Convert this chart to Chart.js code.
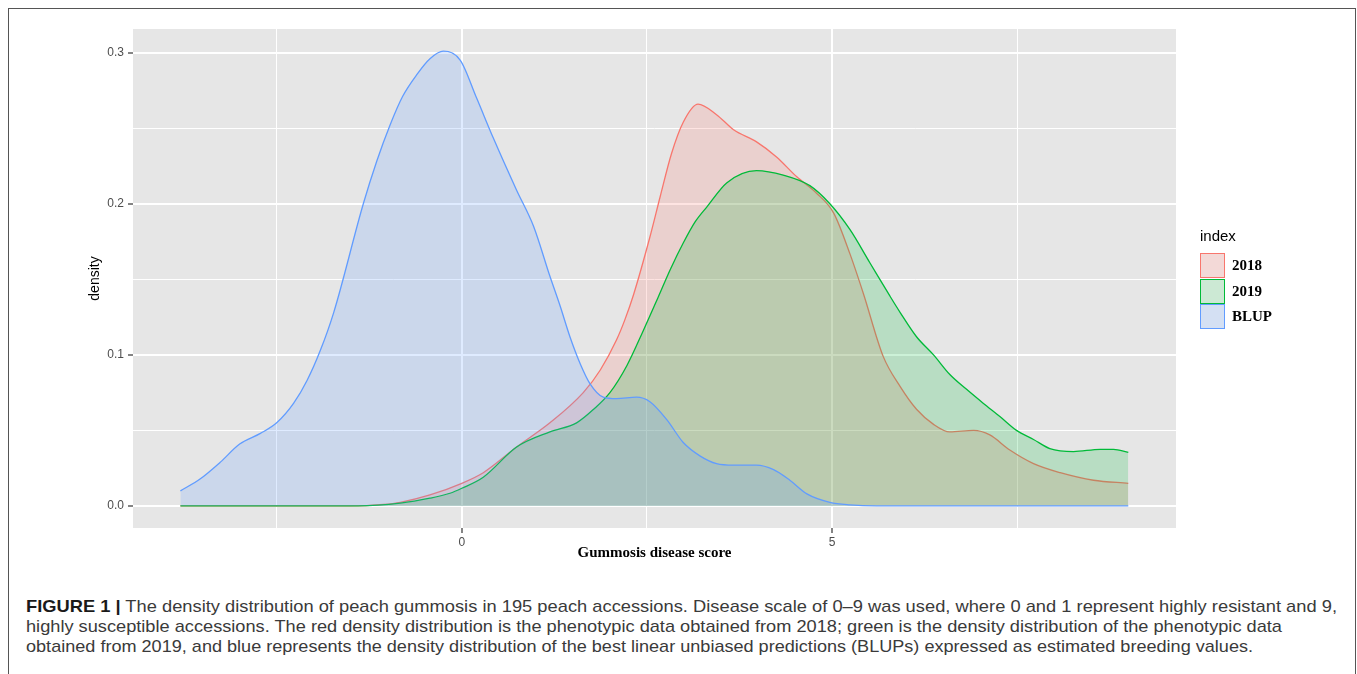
<!DOCTYPE html>
<html>
<head>
<meta charset="utf-8">
<script src="https://cdn.jsdelivr.net/npm/chart.js@4.4.1/dist/chart.umd.min.js"></script>
<style>
  html, body { margin: 0; padding: 0; background: #fff; }
  body { width: 1357px; height: 674px; position: relative; overflow: hidden; font-family: "Liberation Sans", Arial, sans-serif; }
  #frame { position: absolute; left: 8px; top: 8px; width: 1348px; height: 720px; border: 1.5px solid #555; box-sizing: border-box; }
  #chartBox { position: absolute; left: 0; top: 0; width: 1357px; height: 580px; }
  #legend { position: absolute; left: 1200px; top: 227px; }
  #legend .title { position: absolute; left: 0; top: 0; font: 15px "Liberation Sans", Arial, sans-serif; color: #000; white-space: nowrap; }
  #legend .key { position: absolute; left: 0; width: 25px; height: 25px; box-sizing: border-box; border: 1.5px solid; }
  #legend .lab { position: absolute; left: 32px; font: bold 15px "Liberation Serif", "Times New Roman", serif; color: #000; line-height: 25px; white-space: nowrap; }
  .cap { position: absolute; left: 26px; white-space: nowrap; font-size: 17px; line-height: 20px; color: #3a3a3a; transform-origin: 0 0; }
  .cap b { color: #1a1a1a; }
</style>
</head>
<body>
<div id="frame"></div>
<div id="chartBox"><canvas id="densityChart"></canvas></div>
<div id="legend"><div class="title">index</div></div>
<div class="cap" id="cap1" style="top:597px"><b>FIGURE 1 |</b> The density distribution of peach gummosis in 195 peach accessions. Disease scale of 0–9 was used, where 0 and 1 represent highly resistant and 9,</div>
<div class="cap" id="cap2" style="top:617px">highly susceptible accessions. The red density distribution is the phenotypic data obtained from 2018; green is the density distribution of the phenotypic data</div>
<div class="cap" id="cap3" style="top:637px">obtained from 2019, and blue represents the density distribution of the best linear unbiased predictions (BLUPs) expressed as estimated breeding values.</div>
<script>
// series (score on x, density on y)
const score2018 = [-3.8, -1.5, -1.06, -0.83, -0.43, 0, 0.29, 0.74, 1.19, 1.64, 1.87, 2.09, 2.2, 2.32, 2.54, 2.68, 2.83, 2.99, 3.19, 3.44, 3.67, 3.98, 4.25, 4.52, 4.79, 5.02, 5.24, 5.42, 5.69, 5.92, 6.14, 6.37, 6.59, 6.91, 7.13, 7.4, 7.72, 8.08, 8.53, 9.0];
const density2018 = [0, 0, 0.001, 0.0024, 0.0073, 0.015, 0.022, 0.039, 0.055, 0.075, 0.09, 0.11, 0.123, 0.14, 0.178, 0.205, 0.233, 0.254, 0.266, 0.259, 0.249, 0.241, 0.231, 0.218, 0.207, 0.194, 0.167, 0.141, 0.099, 0.079, 0.064, 0.054, 0.049, 0.05, 0.047, 0.037, 0.028, 0.022, 0.017, 0.015];

const score2019 = [-3.8, -1.4, -0.83, -0.43, -0.16, 0, 0.29, 0.74, 1.19, 1.55, 1.78, 2.0, 2.23, 2.45, 2.65, 2.82, 2.99, 3.15, 3.31, 3.58, 3.98, 4.34, 4.7, 4.97, 5.24, 5.51, 5.78, 5.92, 6.14, 6.37, 6.59, 6.82, 7.04, 7.27, 7.49, 7.72, 7.94, 8.26, 8.62, 8.8, 9.0];
const density2019 = [0, 0, 0.0018, 0.0051, 0.0084, 0.0117, 0.019, 0.039, 0.049, 0.055, 0.064, 0.075, 0.093, 0.116, 0.138, 0.157, 0.174, 0.188, 0.198, 0.214, 0.222, 0.219, 0.212, 0.2, 0.183, 0.161, 0.139, 0.128, 0.112, 0.1, 0.087, 0.077, 0.068, 0.059, 0.05, 0.044, 0.038, 0.036, 0.0375, 0.0375, 0.0355];

const scoreBLUP = [-3.8, -3.53, -3.26, -3.0, -2.72, -2.5, -2.27, -2.09, -1.91, -1.73, -1.33, -1.15, -0.97, -0.8, -0.6, -0.43, -0.25, -0.02, 0.2, 0.43, 0.74, 0.97, 1.19, 1.33, 1.46, 1.6, 1.73, 1.91, 2.09, 2.36, 2.54, 2.77, 2.99, 3.22, 3.44, 3.67, 3.98, 4.21, 4.43, 4.66, 4.97, 5.24, 5.6, 9.0];
const densityBLUP = [0.01, 0.018, 0.029, 0.041, 0.048, 0.055, 0.068, 0.083, 0.103, 0.128, 0.2, 0.228, 0.252, 0.271, 0.286, 0.296, 0.301, 0.295, 0.27, 0.243, 0.209, 0.185, 0.152, 0.132, 0.112, 0.094, 0.081, 0.072, 0.071, 0.072, 0.069, 0.057, 0.042, 0.033, 0.028, 0.027, 0.027, 0.024, 0.017, 0.008, 0.0024, 0.0007, 0, 0];

const seriesNames = ['2018', '2019', 'BLUP'];

const yTickValues = [0, 0.05, 0.1, 0.15, 0.2, 0.25, 0.3];
const yTickLabels = ['0.0', '', '0.1', '', '0.2', '', '0.3'];
const xTickValues = [-2.5, 0, 2.5, 5, 7.5];
const xTickLabels = ['', '0', '', '5', ''];

// ggplot default hues
const lineColors = ['#F8766D', '#00BA38', '#619CFF'];
const fillColors = ['rgba(248,118,109,0.2)', 'rgba(0,186,56,0.2)', 'rgba(97,156,255,0.2)'];
const keyFills = ['#F3D9D7', '#CCE9D4', '#D4E0F3'];

function toPoints(xs, ys) {
  return xs.map((x, i) => ({ x: x, y: ys[i] }));
}

const seriesData = [
  toPoints(score2018, density2018),
  toPoints(score2019, density2019),
  toPoints(scoreBLUP, densityBLUP)
];

const panelBackground = {
  id: 'panelBackground',
  beforeDraw(chart) {
    const { ctx, chartArea: { left, top, right, bottom } } = chart;
    ctx.save();
    ctx.fillStyle = '#E6E6E6';
    ctx.fillRect(left, top, right - left, bottom - top);
    ctx.restore();
  }
};

const tickFont = { family: 'Liberation Sans', size: 12 };

new Chart(document.getElementById('densityChart'), {
  type: 'line',
  data: {
    datasets: seriesNames.map((name, i) => ({
      label: name,
      data: seriesData[i],
      borderColor: lineColors[i],
      backgroundColor: fillColors[i],
      borderWidth: 1.3,
      pointRadius: 0,
      fill: 'origin',
      cubicInterpolationMode: 'monotone',
      order: seriesNames.length - i
    }))
  },
  options: {
    responsive: true,
    maintainAspectRatio: false,
    animation: false,
    events: [],
    layout: { padding: { left: 0, top: 29, right: 181, bottom: 0 } },
    plugins: {
      legend: { display: false },
      tooltip: { enabled: false }
    },
    scales: {
      x: {
        type: 'linear',
        min: -4.44,
        max: 9.644,
        afterFit(scale) { scale.height = 52; },
        afterBuildTicks(scale) { scale.ticks = xTickValues.map(v => ({ value: v })); },
        ticks: {
          autoSkip: false,
          maxRotation: 0,
          padding: 2,
          color: '#4D4D4D',
          font: tickFont,
          callback: (v, i) => xTickLabels[i]
        },
        grid: {
          color: '#FFFFFF',
          lineWidth: c => (xTickLabels[c.index] ? 2 : 1),
          tickLength: 5,
          tickWidth: 1.2,
          tickColor: c => (xTickLabels[c.index] ? '#333333' : 'rgba(0,0,0,0)')
        },
        border: { display: false },
        title: {
          display: true,
          text: 'Gummosis disease score',
          color: '#000',
          font: { family: 'Liberation Serif', size: 15, weight: 'bold' },
          padding: { top: 0, bottom: 18 }
        }
      },
      y: {
        type: 'linear',
        min: -0.0146,
        max: 0.3157,
        afterFit(scale) { scale.width = 133; },
        afterBuildTicks(scale) { scale.ticks = yTickValues.map(v => ({ value: v })); },
        ticks: {
          autoSkip: false,
          padding: 4,
          color: '#4D4D4D',
          font: tickFont,
          callback: (v, i) => yTickLabels[i]
        },
        grid: {
          color: '#FFFFFF',
          lineWidth: c => (yTickLabels[c.index] ? 2 : 1),
          tickLength: 5,
          tickWidth: 1.2,
          tickColor: c => (yTickLabels[c.index] ? '#333333' : 'rgba(0,0,0,0)')
        },
        border: { display: false },
        title: {
          display: true,
          text: 'density',
          color: '#000',
          font: { family: 'Liberation Sans', size: 14 },
          padding: { top: 86.5, bottom: 0 }
        }
      }
    }
  },
  plugins: [panelBackground]
});

// legend, ggplot style
const legend = document.getElementById('legend');
seriesNames.forEach((name, i) => {
  const key = document.createElement('div');
  key.className = 'key';
  key.style.top = (26 + i * 25.5) + 'px';
  key.style.borderColor = lineColors[i];
  key.style.background = keyFills[i];
  legend.appendChild(key);
  const lab = document.createElement('div');
  lab.className = 'lab';
  lab.style.top = (26 + i * 25.5) + 'px';
  lab.textContent = name;
  legend.appendChild(lab);
});

// stretch caption lines to the widths in the figure
const captionEnds = { cap1: 1337, cap2: 1282, cap3: 1253 };
Object.keys(captionEnds).forEach(id => {
  const el = document.getElementById(id);
  const w = el.getBoundingClientRect().width;
  el.style.transform = 'scaleX(' + ((captionEnds[id] - 26) / w) + ')';
});
</script>
</body>
</html>
